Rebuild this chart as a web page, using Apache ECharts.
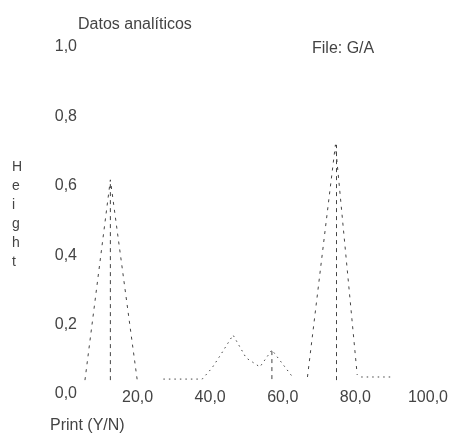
<!DOCTYPE html>
<html>
<head>
<meta charset="utf-8">
<script src="https://cdn.jsdelivr.net/npm/echarts@6/dist/echarts.min.js"></script>
<style>
  html, body { margin: 0; padding: 0; background: #fff; }
  #chart { width: 451px; height: 443px; }
</style>
</head>
<body>
<div id="chart"></div>
<script>
// valores
const xTicks = [0, 20, 40, 60, 80, 100]
const yTicks = [0, 0.2, 0.4, 0.6, 0.8, 1.0]

// picos (triángulos discontinuos)
const pico1 = [[5.5, 0.04], [12.5, 0.617], [19.9, 0.04]]
const pico2 = [[66.8, 0.049], [74.5, 0.718], [80.5, 0.055]]

// tramo bajo punteado
const fondo = [[27.1, 0.043], [35.1, 0.043], [37.8, 0.043], [40.5, 0.075], [42.7, 0.11],
  [46.3, 0.17], [49.9, 0.104], [53.7, 0.078], [57.0, 0.127], [62.7, 0.049]]
const cola = [[81.6, 0.049], [89.9, 0.049]]

// barras verticales: x, desde, hasta
const barras = [[12.5, 0.04, 0.617], [57.0, 0.043, 0.127], [74.8, 0.04, 0.718]]

const gris = '#444'
const fuente = 'Liberation Sans'
const fmt = v => v.toFixed(1).replace('.', ',')

const chart = echarts.init(document.getElementById('chart'))

// convertir barras a segmentos separados por null
const barData = []
barras.forEach(b => {
  barData.push([b[0], b[1]], [b[0], b[2]], null)
})

const dashed = (name, data, type) => ({
  name: name,
  type: 'line',
  data: data,
  symbol: 'none',
  connectNulls: false,
  animation: false,
  lineStyle: { color: gris, width: 1, type: type }
})

chart.setOption({
  animation: false,
  title: [
    { text: 'Datos analíticos', left: 73, top: 12,
      textStyle: { fontFamily: fuente, fontSize: 16, fontWeight: 'normal', color: gris } },
    { text: 'File: G/A', left: 307, top: 36,
      textStyle: { fontFamily: fuente, fontSize: 16, fontWeight: 'normal', color: gris } }
  ],
  grid: { left: 65, right: 21, top: 47, bottom: 49 },
  xAxis: {
    type: 'value',
    min: xTicks[0],
    max: xTicks[xTicks.length - 1],
    interval: 20,
    axisLine: { show: false },
    axisTick: { show: false },
    splitLine: { show: false },
    axisLabel: {
      showMinLabel: false,
      margin: -4,
      formatter: fmt,
      fontFamily: fuente, fontSize: 16, color: gris
    }
  },
  yAxis: {
    type: 'value',
    min: yTicks[0],
    max: yTicks[yTicks.length - 1],
    interval: 0.2,
    axisLine: { show: false },
    axisTick: { show: false },
    splitLine: { show: false },
    axisLabel: {
      margin: -12,
      formatter: fmt,
      fontFamily: fuente, fontSize: 16, color: gris
    }
  },
  graphic: [
    { type: 'text', left: 12, top: 158,
      style: { text: 'H\ne\ni\ng\nh\nt', fontFamily: fuente, fontSize: 14,
        lineHeight: 19, fill: gris, align: 'center' } },
    { type: 'text', left: 50, top: 418,
      style: { text: 'Print (Y/N)', fontFamily: fuente, fontSize: 16, fill: gris } }
  ],
  series: [
    dashed('pico1', pico1, [3, 5]),
    dashed('pico2', pico2, [3, 5]),
    dashed('fondo', fondo, [1.5, 4]),
    dashed('cola', cola, [1.5, 4]),
    dashed('barras', barData, [4, 4])
  ]
})
</script>
</body>
</html>
